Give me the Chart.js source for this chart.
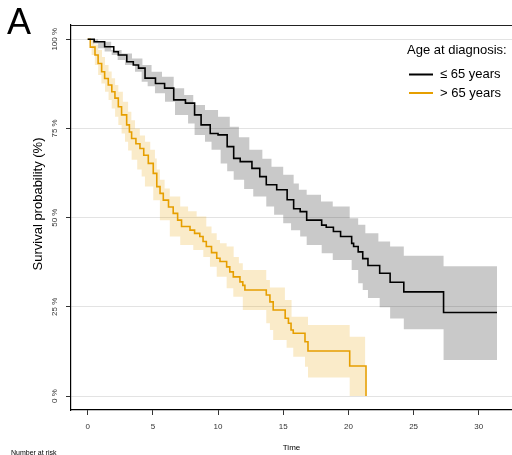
<!DOCTYPE html>
<html>
<head>
<meta charset="utf-8">
<script src="https://cdn.jsdelivr.net/npm/chart.js@4.4.1/dist/chart.umd.min.js"></script>
<style>
  html, body { margin: 0; padding: 0; background: #fff; }
</style>
</head>
<body>
<canvas id="km" width="512" height="455"></canvas>
<script>
// groups and axis ticks
const groupLabels = ['≤ 65 years', '> 65 years'];
const xTickValues = [0, 5, 10, 15, 20, 25, 30];
const yTickValues = [0, 25, 50, 75, 100];

// <= 65 years: Kaplan-Meier estimate (time, survival %)
const youngTime = [0, 0.5, 1.3, 2.0, 2.35, 3.0, 3.5, 3.9, 4.4, 5.2, 5.9, 6.6, 7.5, 8.2, 8.7, 9.4, 10.0, 10.7, 11.2, 11.7, 12.6, 13.2, 13.7, 14.5, 15.3, 15.8, 16.3, 16.8, 17.95, 18.3, 18.85, 19.4, 20.25, 20.4, 20.75, 21.1, 21.5, 22.4, 23.2, 24.25, 27.3, 31.4];
const youngSurv = [100, 99.3, 97.9, 96.5, 95.6, 93.7, 92.8, 91.9, 89.1, 87.6, 86.3, 83.0, 82.1, 78.8, 76.0, 73.6, 73.2, 69.9, 66.6, 65.7, 63.8, 61.5, 59.2, 57.8, 55.0, 52.5, 51.7, 49.3, 47.9, 47.3, 46.1, 44.7, 42.8, 41.9, 40.4, 38.5, 36.6, 34.4, 31.9, 29.2, 23.4, 23.4];
// confidence band
const youngUpTime = [0, 0.8, 1.8, 2.6, 3.4, 4.2, 4.9, 5.7, 6.6, 7.4, 8.1, 9.0, 10.0, 10.9, 11.6, 12.4, 13.4, 14.1, 15.0, 15.8, 16.2, 16.8, 17.9, 18.8, 20.1, 20.75, 21.3, 22.3, 23.2, 24.25, 27.3, 31.4];
const youngUp = [100, 99.3, 97.0, 96.0, 94.6, 92.8, 90.9, 89.5, 86.3, 84.4, 81.6, 80.2, 78.3, 75.5, 72.5, 69.0, 66.5, 64.3, 62.0, 59.6, 57.8, 56.4, 54.5, 53.1, 49.8, 48.0, 45.6, 43.3, 41.9, 39.3, 36.4, 36.4];
const youngLowTime = [0, 0.4, 0.8, 1.3, 1.84, 2.3, 2.86, 3.63, 4.14, 4.6, 5.16, 5.93, 6.7, 7.7, 8.2, 9.0, 9.5, 10.2, 10.7, 11.2, 12.0, 12.7, 13.7, 14.3, 15.0, 15.6, 16.3, 16.8, 17.95, 18.8, 20.25, 20.75, 21.1, 21.5, 22.4, 23.2, 24.25, 27.3, 31.4];
const youngLow = [100, 98.8, 97.5, 96.6, 95.6, 94.2, 92.8, 90.9, 88.1, 86.8, 84.9, 82.5, 78.8, 76.4, 73.2, 71.3, 69.0, 65.2, 63.0, 60.6, 58.0, 55.9, 53.1, 50.8, 48.4, 46.5, 44.7, 42.3, 40.0, 38.1, 35.3, 31.6, 29.7, 27.5, 24.9, 21.7, 18.7, 10.1, 10.1];

// > 65 years
const oldTime = [0, 0.2, 0.56, 0.8, 1.07, 1.3, 1.58, 1.85, 2.09, 2.35, 2.6, 2.99, 3.2, 3.37, 3.7, 4.01, 4.3, 4.65, 5.03, 5.3, 5.55, 5.8, 6.2, 6.56, 6.9, 7.2, 7.85, 8.2, 8.6, 8.85, 9.1, 9.5, 9.9, 10.15, 10.66, 10.9, 11.17, 11.68, 11.9, 12.06, 13.7, 13.98, 14.23, 15.15, 15.4, 15.6, 15.77, 16.67, 16.9, 20.1, 21.35];
const oldSurv = [100, 97.8, 95.6, 93.2, 90.9, 89.0, 87.2, 85.3, 83.5, 81.1, 78.8, 76.0, 74.0, 72.2, 70.7, 69.4, 67.5, 65.2, 62.4, 58.7, 56.8, 54.9, 53.0, 51.2, 49.3, 47.5, 46.5, 45.6, 44.7, 43.3, 41.9, 40.2, 38.6, 37.7, 36.2, 34.8, 33.4, 32.0, 31.0, 29.7, 28.3, 26.4, 24.1, 21.8, 20.4, 18.5, 17.6, 15.2, 12.6, 8.4, 0];
const oldUpTime = [0, 0.5, 0.81, 1.1, 1.33, 1.6, 1.84, 2.1, 2.35, 2.7, 3.1, 3.35, 3.63, 4.0, 4.4, 4.8, 5.16, 5.3, 5.54, 5.9, 6.3, 7.1, 7.7, 8.36, 9.1, 9.5, 9.9, 10.15, 10.66, 11.2, 11.6, 11.9, 13.7, 13.98, 15.13, 15.64, 16.9, 20.1, 21.3];
const oldUp = [100, 98.5, 97.0, 95.0, 92.8, 91.0, 89.1, 87.2, 85.3, 82.5, 79.7, 77.3, 75.0, 73.0, 71.3, 69.0, 66.6, 63.5, 60.6, 58.2, 55.9, 53.1, 51.8, 50.3, 47.5, 45.6, 43.7, 42.8, 41.9, 39.0, 37.2, 35.3, 32.5, 30.4, 26.9, 22.2, 19.9, 16.6, 16.6];
const oldLowTime = [0, 0.3, 0.55, 0.8, 1.05, 1.33, 1.6, 1.84, 2.1, 2.35, 2.6, 2.86, 3.1, 3.37, 3.8, 4.14, 4.39, 5.03, 5.54, 6.3, 7.1, 8.1, 8.87, 9.38, 9.9, 10.66, 11.17, 11.9, 13.7, 13.98, 14.23, 15.26, 15.77, 16.67, 16.9, 20.1, 21.3];
const oldLow = [100, 95.6, 92.8, 90.0, 87.6, 85.3, 83.0, 80.6, 78.3, 76.0, 73.6, 71.3, 68.8, 66.2, 63.5, 61.5, 58.7, 54.9, 49.3, 44.7, 42.3, 40.9, 39.0, 36.2, 33.4, 30.2, 27.8, 24.1, 20.4, 18.5, 15.7, 13.5, 11.0, 8.2, 5.2, 0, 0];

const BLACK = '#000000';
const ORANGE = '#E69F00';
const FONT = '"Liberation Sans", Arial, Helvetica, sans-serif';

function pts(t, v) {
  return t.map((x, i) => ({ x: x, y: v[i] }));
}

function band(t, v, fill, bg) {
  return {
    data: pts(t, v), stepped: true, borderWidth: 0, borderColor: 'rgba(0,0,0,0)',
    pointRadius: 0, fill: fill, backgroundColor: bg, order: 2
  };
}

// extra text, top border and legend
const decor = {
  id: 'decor',
  afterDraw(chart) {
    const ctx = chart.ctx;
    const a = chart.chartArea;
    ctx.save();
    ctx.strokeStyle = '#222';
    ctx.lineWidth = 1;
    ctx.beginPath();
    ctx.moveTo(a.left, a.top + 0.5);
    ctx.lineTo(a.right, a.top + 0.5);
    ctx.stroke();

    ctx.fillStyle = '#000';
    ctx.font = '36px ' + FONT;
    ctx.textBaseline = 'alphabetic';
    ctx.textAlign = 'left';
    ctx.fillText('A', 7, 34);

    ctx.save();
    ctx.translate(38, 204);
    ctx.rotate(-Math.PI / 2);
    ctx.font = '13px ' + FONT;
    ctx.textAlign = 'center';
    ctx.textBaseline = 'middle';
    ctx.fillText('Survival probability (%)', 0, 0);
    ctx.restore();

    ctx.font = '7px ' + FONT;
    ctx.textBaseline = 'top';
    ctx.fillText('Number at risk', 11, 450);

    ctx.font = '13px ' + FONT;
    ctx.textBaseline = 'alphabetic';
    ctx.fillText('Age at diagnosis:', 407, 54);
    const cols = [BLACK, ORANGE];
    const ys = [74.5, 93];
    groupLabels.forEach((lab, i) => {
      ctx.strokeStyle = cols[i];
      ctx.lineWidth = 2;
      ctx.beginPath();
      ctx.moveTo(409, ys[i]);
      ctx.lineTo(433, ys[i]);
      ctx.stroke();
      ctx.textBaseline = 'middle';
      ctx.fillText(lab, 440, ys[i]);
    });
    ctx.restore();
  }
};

new Chart(document.getElementById('km'), {
  type: 'line',
  data: {
    datasets: [
      band(youngUpTime, youngUp, false, 'rgba(0,0,0,0)'),
      band(youngLowTime, youngLow, '-1', 'rgba(0,0,0,0.21)'),
      band(oldUpTime, oldUp, false, 'rgba(0,0,0,0)'),
      band(oldLowTime, oldLow, '-1', 'rgba(230,159,0,0.21)'),
      {
        label: groupLabels[0], data: pts(youngTime, youngSurv), stepped: true,
        borderColor: BLACK, borderWidth: 1.6, pointRadius: 0, fill: false, order: 0
      },
      {
        label: groupLabels[1], data: pts(oldTime, oldSurv), stepped: true,
        borderColor: ORANGE, borderWidth: 1.6, pointRadius: 0, fill: false, order: 0
      }
    ]
  },
  options: {
    responsive: false,
    animation: false,
    devicePixelRatio: 1,
    layout: { padding: { top: 25, right: 0, bottom: 0, left: 0 } },
    plugins: { legend: { display: false }, tooltip: { enabled: false } },
    scales: {
      x: {
        type: 'linear', min: -1.28, max: 32.55,
        afterBuildTicks: s => { s.ticks = xTickValues.map(v => ({ value: v })); },
        afterFit: s => { s.height = 45; },
        grid: { drawOnChartArea: false, tickLength: 5, tickColor: '#333' },
        border: { color: '#000', width: 1.2 },
        ticks: { font: { family: FONT, size: 8 }, color: '#333', padding: 7, maxRotation: 0 },
        title: { display: true, text: 'Time', font: { family: FONT, size: 8 }, color: '#000', padding: { top: 0, bottom: 2 } }
      },
      y: {
        type: 'linear', min: -3.92, max: 104,
        afterBuildTicks: s => { s.ticks = yTickValues.map(v => ({ value: v })); },
        afterFit: s => { s.width = 71; },
        grid: { color: '#e3e3e3', lineWidth: 1, tickLength: 5, tickColor: '#333' },
        border: { color: '#000', width: 1.2 },
        ticks: {
          font: { family: FONT, size: 8 }, color: '#333', padding: 0,
          minRotation: 90, maxRotation: 90, crossAlign: 'center',
          callback: v => v + ' %'
        }
      }
    }
  },
  plugins: [decor]
});
</script>
</body>
</html>
